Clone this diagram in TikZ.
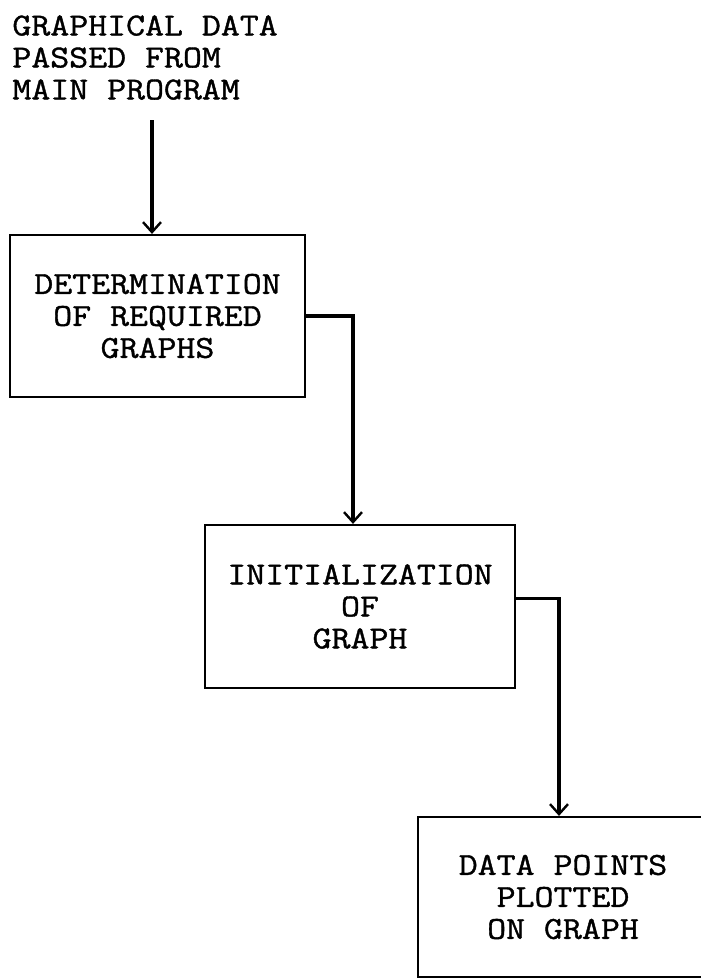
\documentclass[tikz,border=0pt]{standalone}
\usepackage{fontspec}
\setmonofont[FakeStretch=1.15,FakeBold=1.2]{Latin Modern Mono}
\usepackage{tikz}
\usetikzlibrary{arrows.meta,calc,positioning}
\tikzset{stage/.style={draw,line width=1.1pt,align=center,inner sep=0pt},
  flow/.style={line width=1.6pt,-{Straight Barb[length=5pt,width=9pt,line width=1.2pt]}}}

\begin{document}
\begin{tikzpicture}[x=0.5pt,y=-0.5pt,line join=miter,font=\ttfamily\fontsize{16}{16}\selectfont]
\clip (0,0) rectangle (701,980);
% --- input text and first stage
\node[align=left,inner sep=0pt,anchor=north west] (input) at (12,15) {GRAPHICAL DATA\\PASSED FROM\\MAIN PROGRAM};
\coordinate (start) at (152,120);
\node[stage,minimum width=147.5pt,minimum height=81pt] (graphs) at (157.5,316) {DETERMINATION\\OF REQUIRED\\GRAPHS};
\draw[flow] (start) -- ([xshift=-2.75pt]graphs.north);
% --- second stage
\node[stage,minimum width=155pt,minimum height=81.5pt] (init) at (360,606.5) {INITIALIZATION\\OF\\GRAPH};
\draw[flow] (graphs.east) -| ([xshift=-3.5pt]init.north);
% --- third stage, runs off the page on the right
\node[stage,minimum width=145pt,minimum height=80pt] (plot) at (563,897) {DATA POINTS\\PLOTTED\\ON GRAPH};
\draw[flow] ([yshift=4pt]init.east) -| ([xshift=-2pt]plot.north);
\end{tikzpicture}
\end{document}
